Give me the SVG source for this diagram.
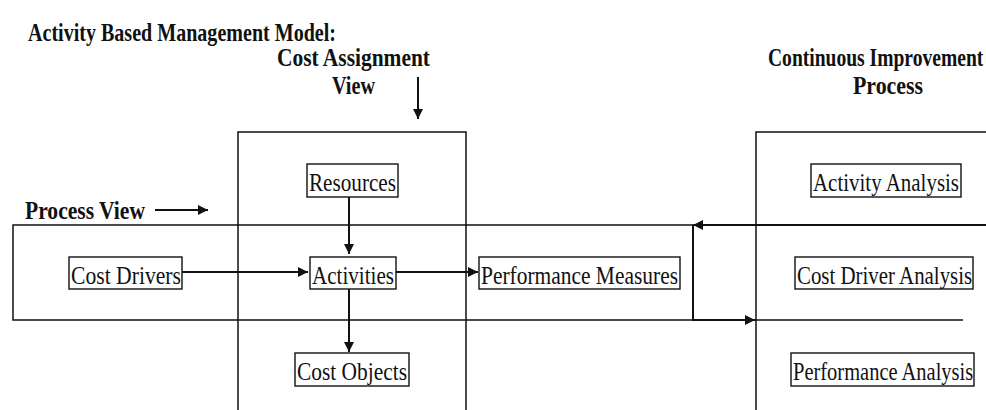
<svg xmlns="http://www.w3.org/2000/svg" width="986" height="410" viewBox="0 0 986 410">
<style>
.h{font-family:"Liberation Serif","Times New Roman",serif;font-weight:bold;font-size:25px;fill:#111}
.t{font-family:"Liberation Serif","Times New Roman",serif;font-size:25px;fill:#111}
.box{fill:none;stroke:#111;stroke-width:1.4}
.fr{fill:none;stroke:#111;stroke-width:1.5}
.ar{fill:none;stroke:#111;stroke-width:2}
</style>
<defs>
<marker id="ah" viewBox="0 0 10 10" refX="10" refY="5" markerWidth="11" markerHeight="10" markerUnits="userSpaceOnUse" orient="auto">
<path d="M0,0 L10,5 L0,10 z" fill="#111"/>
</marker>
</defs>
<rect width="986" height="410" fill="#fff"/>
<g id="headings">
<text class="h" x="28" y="41" font-size="24" textLength="308" lengthAdjust="spacingAndGlyphs">Activity Based Management Model:</text>
<text class="h" x="277" y="66" textLength="153" lengthAdjust="spacingAndGlyphs">Cost Assignment</text>
<text class="h" x="332" y="94" textLength="43" lengthAdjust="spacingAndGlyphs">View</text>
<text class="h" transform="translate(768,66) scale(0.78,1)" x="0" y="0" textLength="276" lengthAdjust="spacingAndGlyphs">Continuous Improvement</text>
<text class="h" x="853" y="94" textLength="70" lengthAdjust="spacingAndGlyphs">Process</text>
<text class="h" x="25" y="219" textLength="120" lengthAdjust="spacingAndGlyphs">Process View</text>
</g>
<g id="frames">
<path id="costAssignmentFrame" class="fr" d="M238,410 V132 H466 V410"/>
<path id="continuousImprovementFrame" class="fr" d="M756,410 V132 H986"/>
<polyline id="processViewFrame" class="fr" points="693,225 13,225 13,320 963,320"/>
</g>
<g id="resources">
<rect class="box" x="307" y="164" width="91" height="33"/>
<text class="t" x="309" y="191" textLength="87" lengthAdjust="spacingAndGlyphs">Resources</text>
</g>
<g id="costDrivers">
<rect class="box" x="69" y="257" width="113" height="32"/>
<text class="t" x="71" y="284" textLength="110" lengthAdjust="spacingAndGlyphs">Cost Drivers</text>
</g>
<g id="activities">
<rect class="box" x="310" y="257" width="86" height="32"/>
<text class="t" x="312" y="284" textLength="82" lengthAdjust="spacingAndGlyphs">Activities</text>
</g>
<g id="performanceMeasures">
<rect class="box" x="479" y="257" width="201" height="32"/>
<text class="t" x="481" y="284" textLength="197" lengthAdjust="spacingAndGlyphs">Performance Measures</text>
</g>
<g id="costObjects">
<rect class="box" x="295" y="353" width="114" height="33"/>
<text class="t" x="297" y="380" textLength="110" lengthAdjust="spacingAndGlyphs">Cost Objects</text>
</g>
<g id="activityAnalysis">
<rect class="box" x="811" y="164" width="150" height="33"/>
<text class="t" x="813" y="191" textLength="146" lengthAdjust="spacingAndGlyphs">Activity Analysis</text>
</g>
<g id="costDriverAnalysis">
<rect class="box" x="795" y="257" width="178" height="32"/>
<text class="t" transform="translate(797,284) scale(0.83,1)" x="0" y="0" textLength="211" lengthAdjust="spacingAndGlyphs">Cost Driver Analysis</text>
</g>
<g id="performanceAnalysis">
<rect class="box" x="791" y="353" width="183" height="33"/>
<text class="t" transform="translate(793,380) scale(0.77,1)" x="0" y="0" textLength="234" lengthAdjust="spacingAndGlyphs">Performance Analysis</text>
</g>
<g id="connectors">
<line class="ar" x1="418" y1="77" x2="418" y2="119" marker-end="url(#ah)"/>
<line class="ar" x1="155" y1="210" x2="208" y2="210" marker-end="url(#ah)"/>
<line class="ar" x1="349" y1="197" x2="349" y2="254" marker-end="url(#ah)"/>
<line class="ar" x1="349" y1="289" x2="349" y2="352" marker-end="url(#ah)"/>
<line class="ar" x1="182" y1="272" x2="308" y2="272" marker-end="url(#ah)"/>
<line class="ar" x1="396" y1="272" x2="478" y2="272" marker-end="url(#ah)"/>
<line class="ar" x1="986" y1="225" x2="693" y2="225" marker-end="url(#ah)"/>
<polyline class="ar" points="693,225 693,320 755,320" marker-end="url(#ah)"/>
</g>
</svg>
